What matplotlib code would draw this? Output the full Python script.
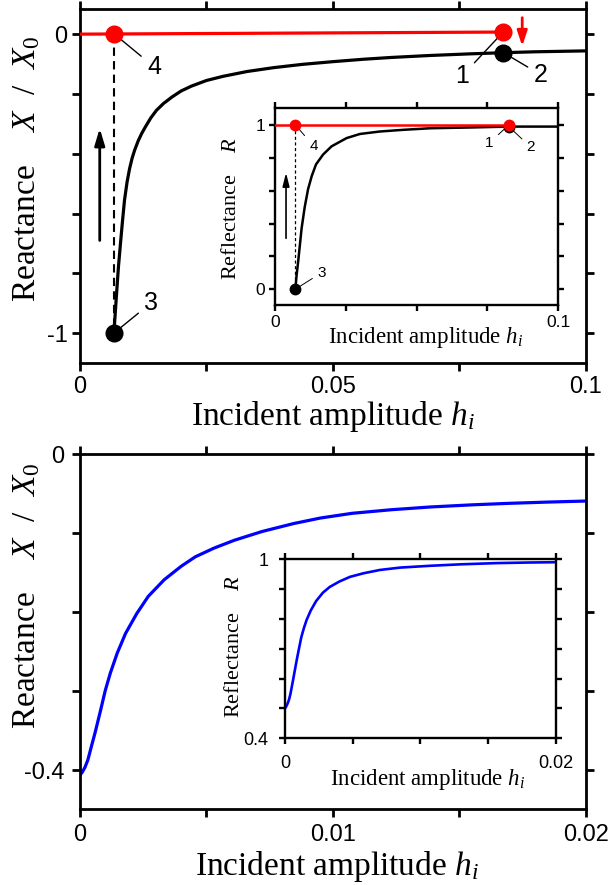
import matplotlib
matplotlib.use("Agg")
import matplotlib.pyplot as plt

plt.rcParams["font.family"] = ["Liberation Sans", "DejaVu Sans"]
plt.rcParams["mathtext.fontset"] = "custom"
plt.rcParams["mathtext.rm"] = "Liberation Serif"
plt.rcParams["mathtext.it"] = "Liberation Serif:italic"

# ---- top panel: reactance vs incident amplitude (black branch)
top_h = [0.0067, 0.0070, 0.0073, 0.0076, 0.0080, 0.0084, 0.0088, 0.0093, 0.0098,
         0.0103, 0.0108, 0.0115, 0.0122, 0.0130, 0.0140, 0.0151, 0.0165, 0.0182,
         0.0200, 0.0220, 0.0250, 0.0283, 0.0330, 0.0383, 0.0440, 0.0500, 0.0560,
         0.0615, 0.0690, 0.0770, 0.0837, 0.0900, 0.1000]
top_x = [-1.000, -0.925, -0.850, -0.778, -0.700, -0.625, -0.555, -0.495, -0.450,
         -0.415, -0.388, -0.357, -0.332, -0.308, -0.280, -0.255, -0.232, -0.210,
         -0.190, -0.174, -0.155, -0.141, -0.125, -0.112, -0.101, -0.092, -0.084,
         -0.078, -0.0715, -0.066, -0.062, -0.059, -0.056]
# red branch (upper state)
red_h = [0.0, 0.0837]
red_x = [0.0, 0.007]
# marked points 1..4
pt_names = ["1", "2", "3", "4"]
pt_h = [0.0837, 0.0837, 0.0067, 0.0067]
pt_x = [0.008, -0.062, -1.0, 0.0017]
pt_col = ["red", "black", "black", "red"]

# inset of top panel: reflectance
in_h = [0.0072, 0.0076, 0.0082, 0.0088, 0.0094, 0.0105, 0.0117, 0.0130, 0.0145,
        0.0170, 0.0200, 0.0253, 0.0300, 0.0370, 0.0450, 0.0550, 0.0700, 0.0826, 0.1000]
in_r = [0.0, 0.08, 0.17, 0.27, 0.37, 0.50, 0.61, 0.69, 0.76,
        0.82, 0.87, 0.92, 0.945, 0.96, 0.97, 0.98, 0.985, 0.99, 0.99]
in_red_h = [0.0, 0.0826]
in_red_r = [1.0, 1.0]
in_pt_h = [0.0826, 0.0826, 0.0072, 0.0072]
in_pt_r = [1.0, 0.99, 0.0, 1.0]

# ---- bottom panel
bot_h = [0.0, 0.0001, 0.0002, 0.00031, 0.00045, 0.0006, 0.0008, 0.0010, 0.0012,
         0.00147, 0.0018, 0.00224, 0.0027, 0.00333, 0.0040, 0.00456, 0.0053, 0.00611,
         0.0072, 0.00844, 0.0095, 0.01076, 0.0123, 0.01385, 0.0155, 0.01695, 0.0185, 0.0200]
bot_x = [-0.406, -0.402, -0.396, -0.387, -0.370, -0.352, -0.326, -0.299, -0.277,
         -0.252, -0.227, -0.202, -0.180, -0.159, -0.142, -0.130, -0.119, -0.109,
         -0.098, -0.088, -0.081, -0.075, -0.0705, -0.067, -0.0643, -0.0624, -0.0608, -0.0595]
bin_h = [0.0, 0.0001, 0.0002, 0.0003, 0.0004, 0.0005, 0.0006, 0.0007, 0.0008, 0.0009,
         0.0010, 0.0012, 0.0014, 0.0016, 0.0019, 0.0023, 0.0028, 0.0033, 0.0040, 0.0048,
         0.0058, 0.0070, 0.0085, 0.0107, 0.0130, 0.0156, 0.0180, 0.0200]
bin_r = [0.500, 0.507, 0.517, 0.530, 0.548, 0.572, 0.596, 0.621, 0.646, 0.670,
         0.693, 0.738, 0.770, 0.797, 0.828, 0.860, 0.888, 0.907, 0.925, 0.941,
         0.953, 0.964, 0.972, 0.978, 0.983, 0.987, 0.989, 0.990]

serif = "Liberation Serif"
ylab = "Reactance    $X$  /  $X_0$"


def style(ax, xt, xl, yt, yl, fs, lw, tl, pad):
    ax.set_xticks(xt)
    ax.set_xticklabels(xl)
    ax.set_yticks(yt)
    ax.set_yticklabels(yl)
    for s in ax.spines.values():
        s.set_linewidth(lw)
    ax.tick_params(direction="out", length=tl, width=lw, labelsize=fs, pad=pad)
    ax.tick_params(top=True, right=True)


fig = plt.figure(figsize=(6.13, 8.85), dpi=100)

# ===== top main
ax = fig.add_axes([0.1305, 0.5898, 0.8254, 0.4])
ax.plot(top_h, top_x, color="black", lw=2.3, zorder=3)
ax.plot(red_h, red_x, color="red", lw=2.3, zorder=3)
ax.plot([pt_h[3], pt_h[2]], [pt_x[3], pt_x[2]], color="black", lw=1.5,
        dashes=(4, 2.5), zorder=2)
for i in [1, 2, 0, 3]:
    ax.plot(pt_h[i], pt_x[i], "o", color=pt_col[i], ms=12, zorder=4)
offs = [(-30, -32), (27, -16), (27, 22), (29, -24)]
for name, h, x, o in zip(pt_names, pt_h, pt_x, offs):
    ax.annotate(name, xy=(h, x), xytext=o, textcoords="offset points",
                ha="center", va="center", fontsize=18,
                arrowprops=dict(arrowstyle="-", lw=1, color="black", shrinkA=3, shrinkB=5))
ax.annotate("", xy=(0.0039, -0.315), xytext=(0.0039, -0.69),
            arrowprops=dict(arrowstyle="-|>,head_length=1.0,head_width=0.3",
                            color="black", lw=2, shrinkA=0, shrinkB=0))
ax.annotate("", xy=(0.0874, -0.04), xytext=(0.0874, 0.055),
            arrowprops=dict(arrowstyle="-|>,head_length=0.9,head_width=0.3",
                            color="red", lw=2, shrinkA=0, shrinkB=0))
ax.set_xlim(0, 0.1)
ax.set_ylim(-1.1, 0.084)
style(ax, [0, 0.025, 0.05, 0.075, 0.1], ["0", "", "0.05", "", "0.1"],
      [-1, -0.8, -0.6, -0.4, -0.2, 0], ["-1", "", "", "", "", "0"], 17, 2, 6, 3)
ax.set_xlabel("Incident amplitude $h_i$", family=serif, fontsize=24, va="center")
ax.xaxis.set_label_coords(0.5, -0.15)
ax.set_ylabel(ylab, family=serif, fontsize=24, va="center")
ax.yaxis.set_label_coords(-0.105, 0.55)

# ===== top inset
ai = fig.add_axes([0.4486, 0.6554, 0.4617, 0.2229])
ai.plot(in_h, in_r, color="black", lw=1.8, zorder=3)
ai.plot(in_red_h, in_red_r, color="red", lw=1.8, zorder=3)
ai.plot([in_pt_h[3], in_pt_h[2]], [in_pt_r[3], in_pt_r[2]], color="black", lw=0.9,
        dashes=(2.5, 2), zorder=2)
for i in [1, 2, 0, 3]:
    ai.plot(in_pt_h[i], in_pt_r[i], "o", color=pt_col[i], ms=7.5, zorder=4)
ioffs = [(-14, -13), (16, -15), (19, 12), (13, -15)]
for name, h, r, o in zip(pt_names, in_pt_h, in_pt_r, ioffs):
    ai.annotate(name, xy=(h, r), xytext=o, textcoords="offset points",
                ha="center", va="center", fontsize=11,
                arrowprops=dict(arrowstyle="-", lw=0.7, color="black", shrinkA=2, shrinkB=3))
ai.annotate("", xy=(0.0039, 0.71), xytext=(0.0039, 0.31),
            arrowprops=dict(arrowstyle="-|>,head_length=0.8,head_width=0.2",
                            color="black", lw=1.2, shrinkA=0, shrinkB=0))
ai.set_xlim(0, 0.1)
ai.set_ylim(-0.096, 1.105)
style(ai, [0, 0.025, 0.05, 0.075, 0.1], ["0", "", "", "", "0.1"],
      [0, 0.2, 0.4, 0.6, 0.8, 1.0], ["0", "", "", "", "", "1"], 12.5, 1.7, 4, 3)
ai.set_xlabel("Incident amplitude $h_i$", family=serif, fontsize=16.5, va="center")
ai.xaxis.set_label_coords(0.532, -0.167)
ai.set_ylabel("Reflectance    $R$", family=serif, fontsize=16, va="center")
ai.yaxis.set_label_coords(-0.155, 0.49)

# ===== bottom main
bx = fig.add_axes([0.1305, 0.0859, 0.8254, 0.4011])
bx.plot(bot_h, bot_x, color="blue", lw=2.3)
bx.set_xlim(0, 0.02)
bx.set_ylim(-0.449, 0)
style(bx, [0, 0.005, 0.01, 0.015, 0.02], ["0", "", "0.01", "", "0.02"],
      [-0.4, -0.3, -0.2, -0.1, 0], ["-0.4", "", "", "", "0"], 17, 2, 6, 5)
bx.set_xlabel("Incident amplitude $h_i$", family=serif, fontsize=24, va="center")
bx.xaxis.set_label_coords(0.507, -0.1625)
bx.set_ylabel(ylab, family=serif, fontsize=24, va="center")
bx.yaxis.set_label_coords(-0.105, 0.6)

# ===== bottom inset
bi = fig.add_axes([0.4649, 0.1658, 0.4421, 0.2023])
bi.plot(bin_h, bin_r, color="blue", lw=1.9)
bi.set_xlim(0, 0.02)
bi.set_ylim(0.4, 1.0)
style(bi, [0, 0.005, 0.01, 0.015, 0.02], ["0", "", "", "", "0.02"],
      [0.4, 0.5, 0.6, 0.7, 0.8, 0.9, 1.0], ["0.4", "", "", "", "", "", "1"], 13, 1.7, 4, 8)
bi.set_xlabel("Incident amplitude $h_i$", family=serif, fontsize=16.5, va="center")
bi.xaxis.set_label_coords(0.526, -0.233)
bi.set_ylabel("Reflectance    $R$", family=serif, fontsize=16, va="center")
bi.yaxis.set_label_coords(-0.186, 0.512)

fig.savefig("out.png", dpi=100)
